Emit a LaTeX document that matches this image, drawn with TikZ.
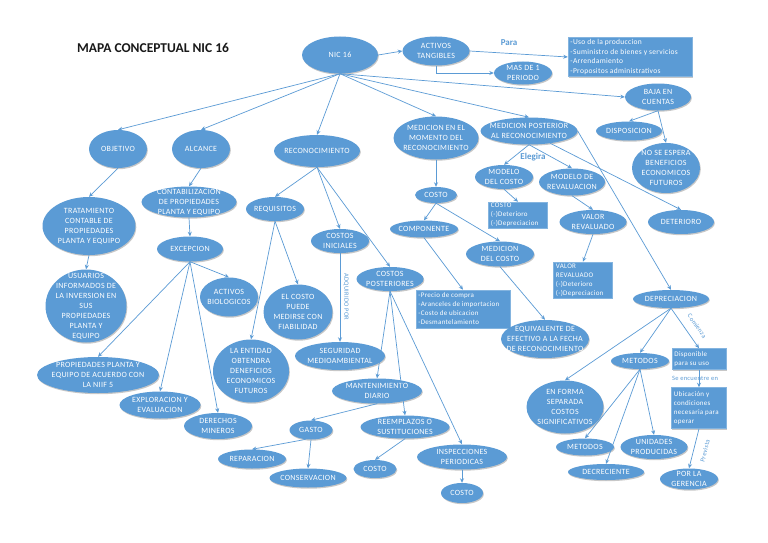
\documentclass[tikz,border=0pt]{standalone}
\usepackage{fontspec}
\setmainfont{Carlito}
\newfontfamily\nodefont[LetterSpace=4]{Carlito}
\usetikzlibrary{shapes.geometric,arrows.meta,shadows}
\definecolor{nb}{HTML}{5B9BD5}
\definecolor{ln}{HTML}{5B9BD5}
\tikzset{
  ell/.style={ellipse, fill=nb, inner sep=0pt, drop shadow={fill=black, opacity=0.22, shadow xshift=0.8pt, shadow yshift=-1.2pt}},
  rbox/.style={rectangle, fill=nb, draw=nb!75!white, line width=0.5pt, inner sep=0pt, drop shadow={fill=black, opacity=0.22, shadow xshift=0.8pt, shadow yshift=-1.2pt}},
  txt/.style={text=white, align=center, inner sep=0pt, font=\nodefont\fontsize{8}{10}\selectfont},
  rtxt/.style={text=white, align=left, inner sep=0pt, font=\nodefont\fontsize{7.5}{9.5}\selectfont},
  rtxts/.style={text=white, align=left, inner sep=0pt, font=\nodefont\fontsize{7}{9}\selectfont},
  arr/.style={draw=ln, line width=0.7pt, -{Stealth[length=4.5pt,width=4pt]}},
  lblb/.style={text=nb, inner sep=0pt, font=\bfseries\fontsize{9}{11}\selectfont},
  lbls/.style={text=nb, inner sep=0pt, font=\nodefont\fontsize{6.5}{8}\selectfont},
}
\newcommand\EL[6]{\node[ell,minimum width=#4pt,minimum height=#5pt] (#1) at (#2,#3) {};
  \node[txt] (#1-t) at (#1.center) {#6};}
\newcommand\RB[7]{\node[rbox,minimum width=#4pt,minimum height=#5pt] (#1) at (#2,#3) {};
  \node[#6, anchor=west] (#1-t) at ([xshift=2.5pt]#1.west) {#7};}
\begin{document}
\begin{tikzpicture}[x=1pt,y=-1pt]
\useasboundingbox[fill=white] (0,0) rectangle (768,543);
\node[anchor=center, text=black!90, font=\bfseries\fontsize{13.5}{16}\selectfont] (title) at (153,48) {MAPA CONCEPTUAL NIC 16};
% top / right
\EL{nic}{340}{55}{76}{37}{NIC 16}
\EL{at}{436}{51}{67}{29}{ACTIVOS\\TANGIBLES}
\EL{mas}{523}{73}{58}{23}{MAS DE 1\\PERIODO}
\RB{uso}{630}{57}{124}{39}{rtxt}{-Uso de la produccion\\-Suministro de bienes y servicios\\-Arrendamiento\\-Propositos administrativos}
\EL{baja}{658}{97}{66}{27}{BAJA EN\\CUENTAS}
\EL{disp}{629}{131}{66}{19}{DISPOSICION}
\EL{nose}{666}{168}{68}{50}{NO SE ESPERA\\BENEFICIOS\\ECONOMICOS\\FUTUROS}
\EL{det}{681}{222}{66}{24}{DETERIORO}
\EL{mm}{436}{138}{85}{43}{MEDICION EN EL\\MOMENTO DEL\\RECONOCIMIENTO}
\EL{mp}{529}{131}{97}{27}{MEDICION POSTERIOR\\AL RECONOCIMIENTO}
\EL{mdc}{504}{177}{58}{24}{MODELO\\DEL COSTO}
\EL{mdr}{572}{182}{66}{27}{MODELO DE\\REVALUACION}
\RB{rc}{518}{215}{59}{26}{rtxts}{COSTO\\(-)Deterioro\\(-)Depreciacion}
\EL{vr}{593}{222}{67}{24}{VALOR\\REVALUADO}
\RB{rvr}{583}{280}{59}{36}{rtxts}{VALOR\\REVALUADO\\(-)Deterioro\\(-)Depreciacion}
\EL{cmm}{436}{195}{42}{16}{COSTO}
\EL{comp}{424}{229}{68}{17}{COMPONENTE}
\EL{mdelc}{500}{254}{68}{25}{MEDICION\\DEL COSTO}
\RB{lc}{463}{309}{94}{38}{rtxts}{-Precio de compra\\-Aranceles de importacion\\-Costo de ubicacion\\-Desmantelamiento}
\EL{eq}{545}{339}{88}{38}{EQUIVALENTE DE\\EFECTIVO A LA FECHA\\DE RECONOCIMIENTO}
\EL{dep}{671}{299}{76}{18}{DEPRECIACION}
\EL{met}{640}{361}{58}{16}{METODOS}
\RB{disp2}{699}{359}{54}{21}{rtxts}{Disponible\\para su uso}
\RB{ubi}{699}{408}{55}{41}{rtxts}{Ubicación y\\condiciones\\necesaria para\\operar}
\EL{enf}{565}{407}{77}{53}{EN FORMA\\SEPARADA\\COSTOS\\SIGNIFICATIVOS}
\EL{met2}{585}{447}{58}{17}{METODOS}
\EL{uni}{654}{447}{67}{24}{UNIDADES\\PRODUCIDAS}
\EL{dec}{606}{472}{76}{16}{DECRECIENTE}
\EL{ger}{689}{479}{58}{21}{POR LA\\GERENCIA}
% left
\EL{obj}{118}{149}{58}{38}{OBJETIVO}
\EL{alc}{201}{149}{58}{38}{ALCANCE}
\EL{rec}{317}{151}{86}{32}{RECONOCIMIENTO}
\EL{trat}{89}{226}{93}{58}{TRATAMIENTO\\CONTABLE DE\\PROPIEDADES\\PLANTA Y EQUIPO}
\EL{usu}{86}{306}{81}{73}{USUARIOS\\INFORMADOS DE\\LA INVERSION EN\\SUS\\PROPIEDADES\\PLANTA Y\\EQUIPO}
\EL{cont}{189}{202}{95}{31}{CONTABILIZACION\\DE PROPIEDADES\\PLANTA Y EQUIPO}
\EL{exc}{190}{249}{66}{25}{EXCEPCION}
\EL{bio}{229}{297}{58}{39}{ACTIVOS\\BIOLOGICOS}
\EL{niif}{98}{375}{122}{36}{PROPIEDADES PLANTA Y\\EQUIPO DE ACUERDO CON\\LA NIIF 5}
\EL{expl}{160}{405}{81}{27}{EXPLORACION Y\\EVALUACION}
\EL{der}{218}{426}{68}{26}{DERECHOS\\MINEROS}
\EL{ent}{251}{371}{76}{63}{LA ENTIDAD\\OBTENDRA\\DENEFICIOS\\ECONOMICOS\\FUTUROS}
\EL{req}{275}{209}{58}{24}{REQUISITOS}
\EL{elc}{298}{312}{69}{55}{EL COSTO\\PUEDE\\MEDIRSE CON\\FIABILIDAD}
\EL{ci}{340}{241}{58}{24}{COSTOS\\INICIALES}
\EL{seg}{340}{356}{90}{28}{SEGURIDAD\\MEDIOAMBIENTAL}
\EL{cp}{390}{279}{67}{24}{COSTOS\\POSTERIORES}
\EL{man}{377}{391}{90}{25}{MANTENIMIENTO\\DIARIO}
\EL{gas}{311}{430}{43}{19}{GASTO}
\EL{ree}{405}{427}{89}{23}{REEMPLAZOS O\\SUSTITUCIONES}
\EL{ins}{462}{457}{90}{25}{INSPECCIONES\\PERIODICAS}
\EL{c2}{375}{469}{43}{18}{COSTO}
\EL{c3}{462}{493}{42}{20}{COSTO}
\EL{rep}{252}{459}{68}{19}{REPARACION}
\EL{cons}{308}{478}{77}{19}{CONSERVACION}
% labels
\node[lblb] (para) at (509,43) {Para};
\node[lblb] (eleg) at (533,157) {Elegira};
\node[lbls, rotate=-90] (adq) at (346,297) {ADQUIRIDO POR};
\node[lbls, rotate=-55] (com) at (697,326) {Comienza};
\node[lbls] (sen) at (695,378) {Se encuentre en};
\node[lbls, rotate=76] (prev) at (705,451) {Prevista};
% connectors
\draw[arr] (nic.south) -- (obj.north);
\draw[arr] (nic.south) -- (alc.north);
\draw[arr] (nic.south) -- (rec.north);
\draw[arr] (nic.south) -- (mm.north);
\draw[arr] (nic.south) -- (mp.north);
\draw[arr] (nic.south) -- (baja.west);
\draw[arr] (nic.east) -- (at.west);
\draw[arr] (at.east) -- (uso.west);
\draw[arr] (at.south) |- (mas.west);
\draw[arr] (baja.south) -- (disp.north);
\draw[arr] (baja.south) -- (nose.north);
\draw[arr] (mp.south) -- (mdc.north);
\draw[arr] (mp.south) -- (mdr.north);
\draw[arr] (mp.-30) -- (det.north);
\draw[arr] (mp.east) -- (dep.north);
\draw[arr] (mm.south) -- (cmm.north);
\draw[arr] (cmm.south) -- (comp.north);
\draw[arr] (cmm.south) -- (mdelc.north);
\draw[arr] (comp.south) -- (lc.north);
\draw[arr] (mdelc.south) -- (eq.north);
\draw[arr] (mdc.south) -- (rc.north);
\draw[arr] (mdr.south) -- (vr.north);
\draw[arr] (vr.south) -- (rvr.north);
\draw[arr] (dep.south) -- (enf.north);
\draw[arr] (dep.south) -- (met.north);
\draw[arr] (dep.south) -- (disp2.north);
\draw[arr] (disp2.south) -- (ubi.north);
\draw[arr] (ubi.south) -- (ger.north);
\draw[arr] (met.south) -- (met2.north);
\draw[arr] (met.south) -- (dec.north);
\draw[arr] (met.south) -- (uni.north);
\draw[arr] (obj.south) -- (trat.north);
\draw[arr] (trat.south) -- (usu.north);
\draw[arr] (alc.south) -- (cont.north);
\draw[arr] (cont.south) -- (exc.north);
\draw[arr] (exc.south) -- (bio.north);
\draw[arr] (exc.south) -- (niif.north);
\draw[arr] (exc.south) -- (expl.north);
\draw[arr] (exc.south) -- (der.north);
\draw[arr] (rec.south) -- (req.north);
\draw[arr] (rec.south) -- (ci.north);
\draw[arr] (rec.south) -- (cp.north);
\draw[arr] (req.south) -- (ent.north);
\draw[arr] (req.south) -- (elc.north);
\draw[arr] (ci.south) -- (seg.north);
\draw[arr] (cp.south) -- (man.north);
\draw[arr] (cp.south) -- (ree.north);
\draw[arr] (cp.south) -- (ins.north);
\draw[arr] (man.south) -- (gas.north);
\draw[arr] (gas.-120) -- (rep.north);
\draw[arr] (gas.south) -- (cons.north);
\draw[arr] (ree.south) -- (c2.north);
\draw[arr] (ins.south) -- (c3.north);
\end{tikzpicture}
\end{document}
